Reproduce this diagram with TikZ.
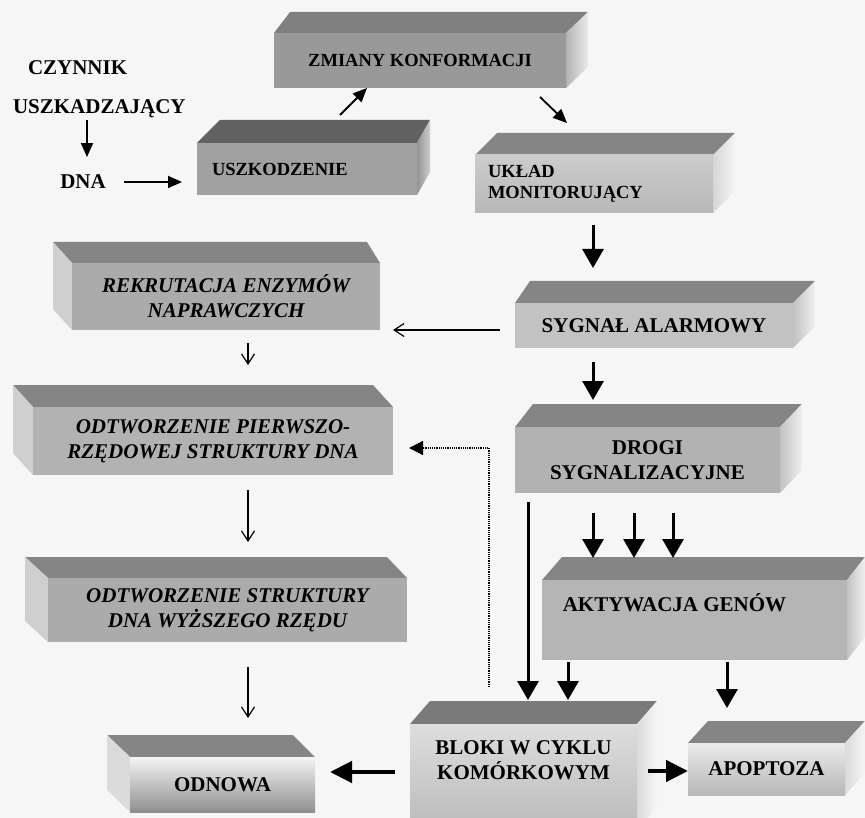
\documentclass[tikz,border=0pt]{standalone}
\usepackage{fontspec}
\setmainfont{Liberation Serif}
\usetikzlibrary{arrows.meta,calc}

\definecolor{paper}{gray}{0.965}

% Top face plus right-hand side face of a slab.
% #2 xl, #3 yt, #4 xr, #5 yb (front face), #6 back-left x, #7 back-right x, #8 back y
\newcommand\deepR[8][]{%
  \begin{scope}[#1]
    \fill[topface] (#2,#3) -- (#4,#3) -- (#7,#8) -- (#6,#8) -- cycle;
    \shade[sideR] (#4,#3) -- (#7,#8) -- (#7,#8+#5-#3) -- (#4,#5) -- cycle;
  \end{scope}}
% Top face plus left-hand side face of a slab (same arguments)
\newcommand\deepL[8][]{%
  \begin{scope}[#1]
    \fill[topface] (#2,#3) -- (#4,#3) -- (#7,#8) -- (#6,#8) -- cycle;
    \fill[sideL] (#2,#3) -- (#6,#8) -- (#6,#8+#5-#3) -- (#2,#5) -- cycle;
  \end{scope}}

\begin{document}
\begin{tikzpicture}[x=1pt,y=-1pt,
  topface/.style={fill=black!48},
  sideR/.style={left color=black!24, right color=black!6},
  sideL/.style={fill=black!19},
  front/.style={rectangle, inner sep=0pt, outer sep=0pt, align=center},
  boxtext/.style={font=\fontsize{21}{25}\selectfont\bfseries},
  smalltext/.style={font=\fontsize{18.5}{21}\selectfont\bfseries},
  ittext/.style={font=\fontsize{21}{25}\selectfont\bfseries\itshape},
  plain/.style={inner sep=0pt, outer sep=0pt, font=\fontsize{21}{25}\selectfont\bfseries},
  bigarrow/.style={line width=3pt, -{Triangle[length=19pt,width=21pt]}},
  widearrow/.style={line width=4.5pt, -{Triangle[length=22pt,width=21pt]}},
  smallarrow/.style={line width=1.8pt, -{Triangle[length=14pt,width=12pt]}},
  thinarrow/.style={line width=1.2pt, -{Straight Barb[length=10pt,width=13pt]}},
  dotarrow/.style={line width=1.2pt, densely dotted, -{Triangle[length=14pt,width=14pt]}}
]
\fill[paper] (0,0) rectangle (865,818);
\useasboundingbox (0,0) rectangle (865,818);

% ---------- slab faces ----------
\deepR[topface/.style={fill=black!50}, sideR/.style={left color=black!30, right color=black!8}]
  {274}{33}{566}{88}{290}{588}{12}
\deepR[topface/.style={fill=black!62}, sideR/.style={left color=black!42, right color=black!20}]
  {197}{143}{417}{195}{220}{430}{120}
\deepR[sideR/.style={left color=black!16, right color=black!4}]
  {475}{155}{713}{213}{497}{735}{133}
\deepR{515}{303}{793}{348}{530}{815}{281}
\deepR{515}{427}{780}{493}{533}{802}{404}
\deepR{542}{580}{847}{660}{562}{865}{557}
\deepR[topface/.style={fill=black!52}, sideR/.style={left color=black!14, right color=black!4}]
  {410}{724}{637}{830}{430}{657}{701}
\deepR[sideR/.style={left color=black!14, right color=black!4}]
  {688}{743}{845}{795}{708}{865}{721}

\deepL{72}{263}{380}{330}{53}{367}{242}
\deepL{33}{407}{393}{475}{13}{373}{385}
\deepL{48}{578}{407}{642}{25}{387}{557}
\deepL[sideL/.style={fill=black!14}]{130}{757}{315}{812}{107}{293}{735}

% ---------- front faces with their labels ----------
\node[front, fill=black!40, minimum width=292pt, minimum height=55pt, smalltext]
  (zmi) at (420,60.5) {ZMIANY KONFORMACJI};
\node[front, fill=black!37, minimum width=220pt, minimum height=52pt,
  text width=190pt, align=left, smalltext] (usz) at (307,169) {USZKODZENIE};
\node[front, top color=black!20, middle color=black!3, bottom color=black!28,
  minimum width=238pt, minimum height=58pt, text width=212pt, align=left, smalltext]
  (ukl) at (594,184) {UKŁAD\\MONITORUJĄCY};
\node[front, fill=black!24, minimum width=278pt, minimum height=45pt, boxtext]
  (syg) at (654,325.5) {SYGNAŁ ALARMOWY};
\node[front, fill=black!30, minimum width=265pt, minimum height=66pt, boxtext]
  (dro) at (647.5,460) {DROGI\\SYGNALIZACYJNE};
\node[front, fill=black!29, minimum width=305pt, minimum height=80pt,
  label={[boxtext, xshift=-20pt, yshift=17pt]center:AKTYWACJA GENÓW}]
  (akt) at (694.5,620) {};
\node[front, top color=black!13, bottom color=black!27, minimum width=227pt, minimum height=106pt,
  label={[boxtext, align=center, yshift=17pt]center:BLOKI W CYKLU\\KOMÓRKOWYM}]
  (blo) at (523.5,777) {};
\node[front, top color=black!8, bottom color=black!28, minimum width=157pt, minimum height=52pt, boxtext]
  (apo) at (766.5,769) {APOPTOZA};

\node[front, fill=black!33, minimum width=308pt, minimum height=67pt, ittext]
  (rek) at (226,296.5) {REKRUTACJA ENZYMÓW\\NAPRAWCZYCH};
\node[front, fill=black!30, minimum width=360pt, minimum height=68pt, ittext]
  (odp) at (213,441) {ODTWORZENIE PIERWSZO-\\RZĘDOWEJ STRUKTURY DNA};
\node[front, fill=black!33, minimum width=359pt, minimum height=64pt, ittext]
  (ods) at (227.5,610) {ODTWORZENIE STRUKTURY\\DNA WYŻSZEGO RZĘDU};
\node[front, top color=black!4, bottom color=black!44, minimum width=185pt, minimum height=55pt, boxtext]
  (odn) at (222.5,784.5) {ODNOWA};

% ---------- free labels ----------
\node[plain, anchor=west, align=left] (czyn) at (13,89.7)
  {\hspace*{15pt}CZYNNIK\\[14pt]USZKADZAJĄCY};
\node[plain] (dna) at (83,182) {DNA};

% ---------- connectors ----------
\draw[smallarrow] ($(czyn.south -| dna.north)+(4,2)$) -- ($(dna.north)+(4,-18)$);
\draw[smallarrow] ($(dna.east)+(18,0)$) -- ($(usz.west)+(-15,13)$);
\draw[smallarrow] ($(usz.north)+(33,-28)$) -- ($(zmi.south)+(-53,0)$);
\draw[smallarrow] ($(zmi.south)+(120,9)$) -- ($(ukl.north)+(-27,-32)$);

\draw[bigarrow] ($(ukl.south)+(-1,12)$) -- ($(syg.north)+(-61,-35)$);
\draw[bigarrow] ($(syg.south)+(-61,14)$) -- ($(dro.north)+(-54.5,-27)$);
\foreach \dx in {-54.5,-13.5,25.5}
  \draw[bigarrow] ($(dro.south)+(\dx,20)$) -- ($(akt.north)+(\dx-47,-22)$);
\draw[bigarrow] ($(dro.south)+(-119.5,9)$) -- ($(blo.north)+(4.5,-24)$);
\draw[bigarrow] ($(akt.south)+(-126.5,2)$) -- ($(blo.north)+(44.5,-24)$);
\draw[bigarrow] ($(akt.south)+(32.5,2)$) -- ($(apo.north)+(-39.5,-35)$);
\draw[widearrow] ($(blo.east)+(11,-6)$) -- ($(apo.west)+(0,2)$);
\draw[widearrow] ($(blo.west)+(-15,-5)$) -- ($(odn.east)+(15,-12.5)$);

\draw[thinarrow] ($(syg.west)+(-15,4.5)$) -- ($(rek.east)+(13,33.5)$);
\draw[thinarrow] ($(rek.south)+(22,13)$) -- ($(odp.north)+(35,-42)$);
\draw[thinarrow] ($(odp.south)+(35,15)$) -- ($(ods.north)+(20.5,-36)$);
\draw[thinarrow] ($(ods.south)+(20.5,25)$) -- ($(odn.north)+(25.5,-39)$);

\draw[dotarrow] ($(blo.north)+(-34.5,-37)$) |- ($(odp.east)+(16,7)$);
\end{tikzpicture}
\end{document}
